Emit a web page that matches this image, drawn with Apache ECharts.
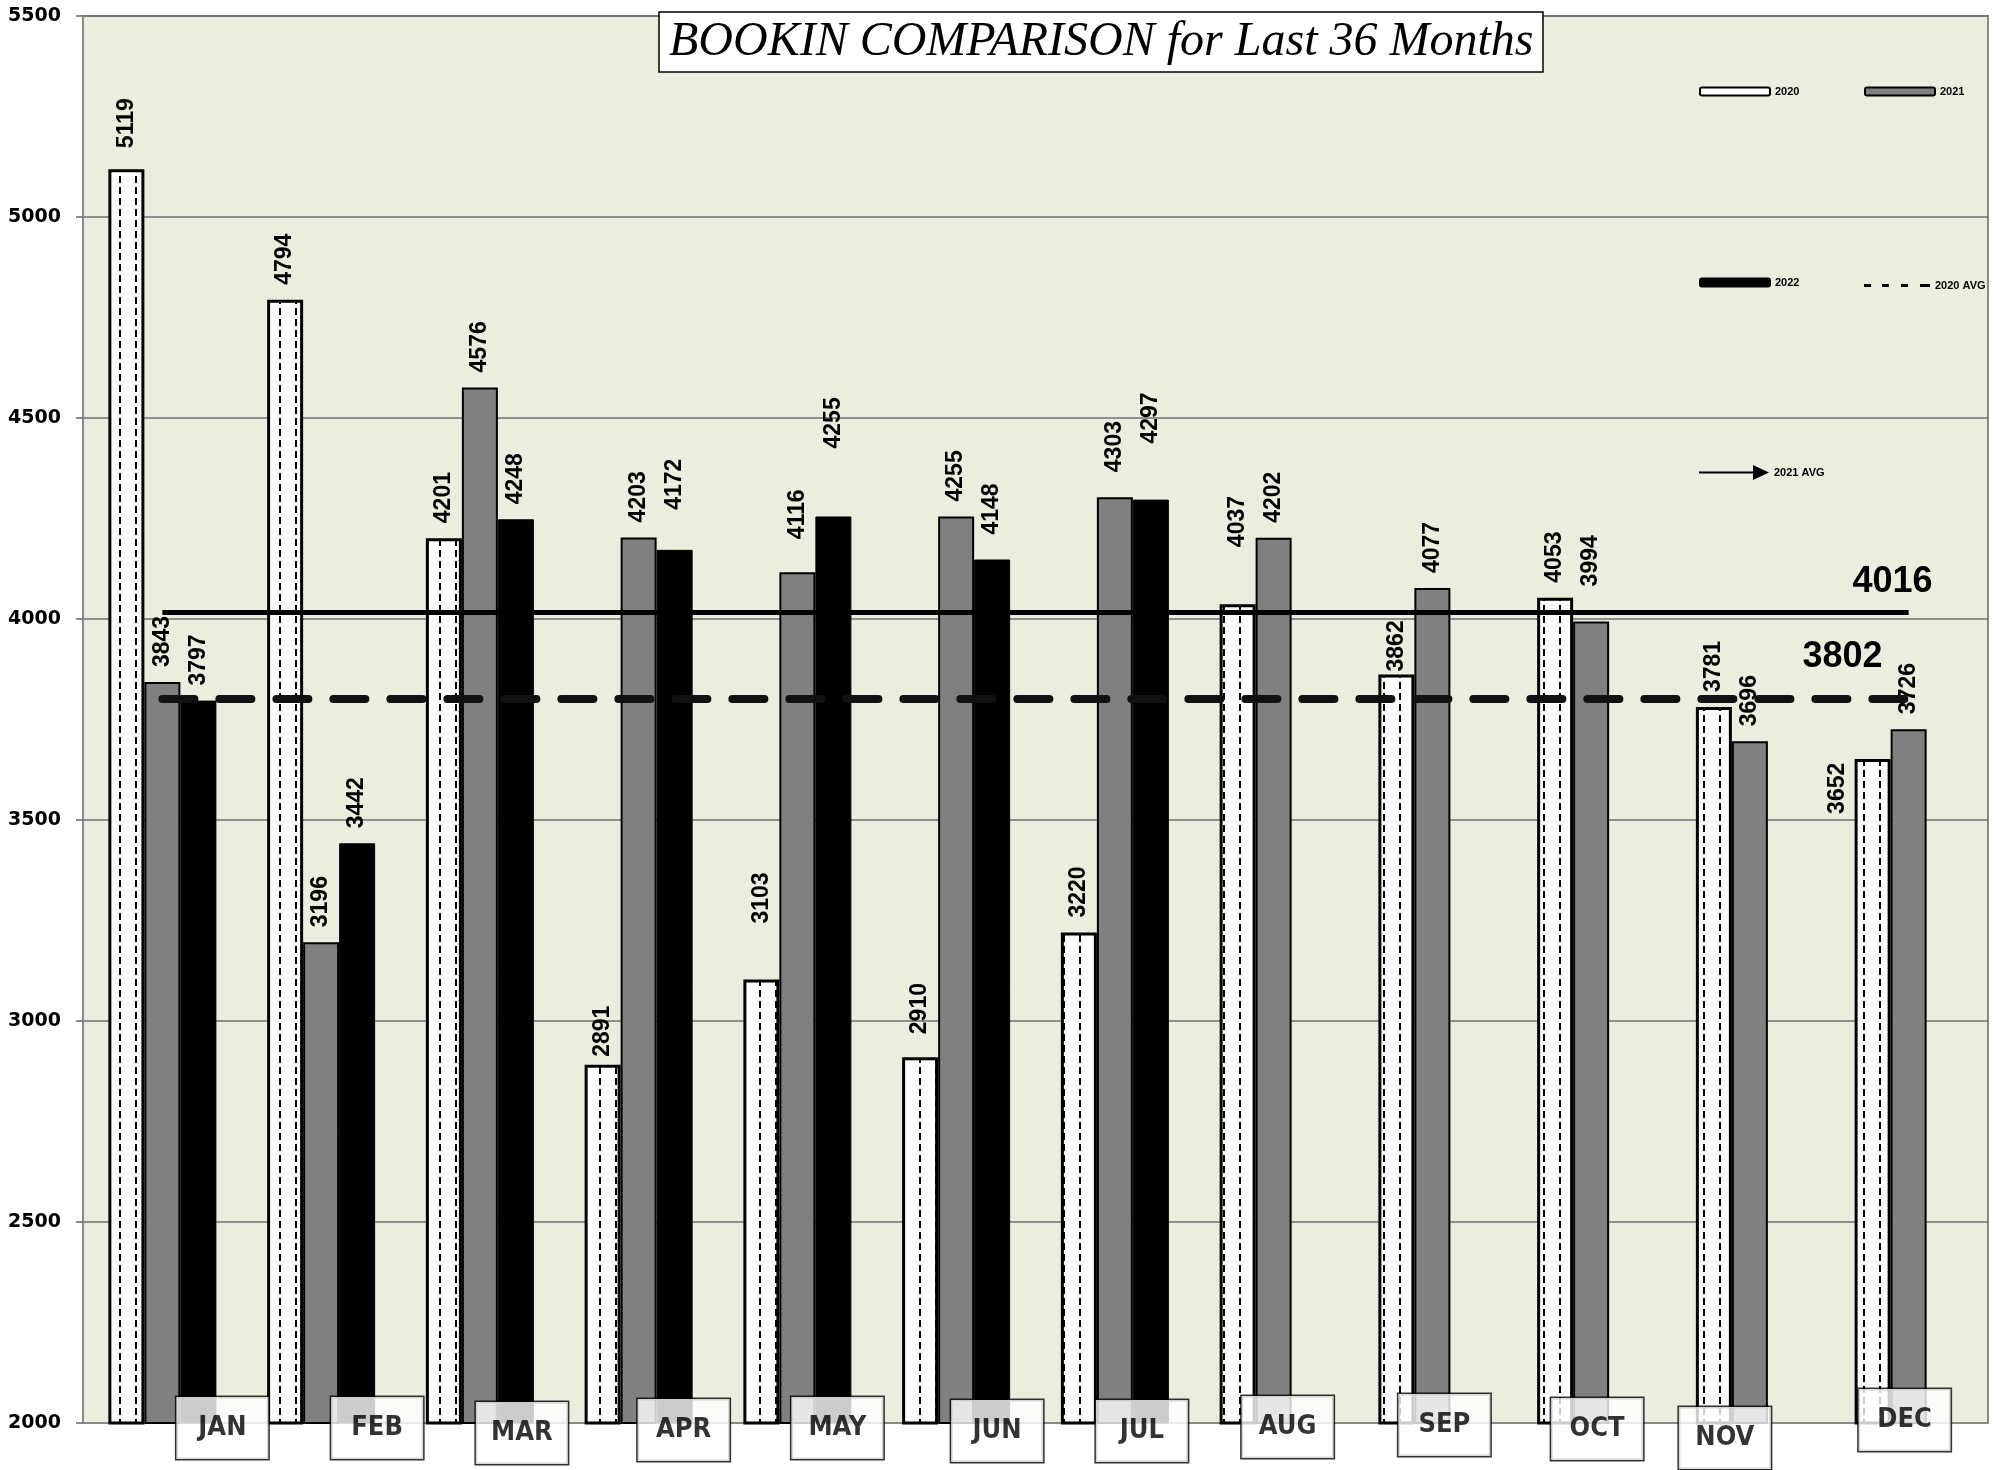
<!DOCTYPE html>
<html>
<head>
<meta charset="utf-8">
<title>Bookin comparison</title>
<script src="https://cdn.jsdelivr.net/npm/echarts@6/dist/echarts.min.js"></script>
<style>
  html, body { margin: 0; padding: 0; background: #fff; }
  #chart { width: 2007px; height: 1470px; }
</style>
</head>
<body>
<div id="chart"></div>
<script>
// data
const months = ['JAN', 'FEB', 'MAR', 'APR', 'MAY', 'JUN', 'JUL', 'AUG', 'SEP', 'OCT', 'NOV', 'DEC']
const y2020 = [5119, 4794, 4201, 2891, 3103, 2910, 3220, 4037, 3862, 4053, 3781, 3652]
const y2021 = [3843, 3196, 4576, 4203, 4116, 4255, 4303, 4202, 4077, 3994, 3696, 3726]
const y2022 = [3797, 3442, 4248, 4172, 4255, 4148, 4297, null, null, null, null, null]
const avg2020 = 3802
const avg2021 = 4016
const yTicks = [2000, 5500, 500] // min, max, step

// layout tweaks: value labels that sit off their usual spot, screen [dx, dy]
const labelNudge = {
  '2020': { 0: [0, -6], 3: [0, 7], 4: [0, -41], 5: [0, -8], 7: [0, -42], 8: [0, 12], 11: [-35, 70] },
  '2021': { 4: [0, -18], 6: [0, -10], 9: [0, -20] },
  '2022': { 3: [0, -25], 4: [0, -53], 5: [0, -10], 6: [0, -41] }
}
// month boxes are shifted a bit from the category centre [dx, dy]
const monthBoxShift = [[60, 5], [56, 5], [42, 10], [45, 7], [40, 5], [41, 8], [27, 8], [14, 4], [12, 2], [6, 6], [-25, 15], [-4, -3]]

// white bar with little vertical dashes
function dashPattern() {
  const c = document.createElement('canvas')
  c.width = 16
  c.height = 11
  const ctx = c.getContext('2d')
  ctx.fillStyle = '#fff'
  ctx.fillRect(0, 0, 16, 11)
  ctx.fillStyle = '#000'
  ctx.fillRect(7, 0, 2, 7)
  return c
}

function barData(name, values) {
  const nudge = labelNudge[name] || {}
  return values.map((v, i) => {
    const n = nudge[i]
    // labels are turned 90deg, so the offset is given in the turned frame
    if (n) return { value: v, label: { offset: [-n[1], n[0]] } }
    return v
  })
}

const valueLabel = {
  show: true,
  position: 'top',
  rotate: 90,
  align: 'left',
  verticalAlign: 'middle',
  distance: 15,
  fontSize: 23,
  fontWeight: 'bold',
  fontFamily: '"Liberation Sans", Arial, sans-serif',
  color: '#000'
}

const legendText = { fontSize: 11, fontWeight: 'bold', fontFamily: '"Liberation Sans", Arial', color: '#000' }
function legendAt(name, left, top, extra) {
  return Object.assign({
    data: [name],
    left: left,
    top: top,
    padding: 0,
    itemWidth: 70,
    itemHeight: 8,
    selectedMode: false,
    textStyle: legendText
  }, extra || {})
}

const chart = echarts.init(document.getElementById('chart'))

chart.setOption({
  backgroundColor: '#fff',
  animation: false,
  title: {
    text: 'BOOKIN COMPARISON for Last 36 Months',
    left: 659,
    top: 12,
    backgroundColor: '#fff',
    borderColor: '#000',
    borderWidth: 1.5,
    padding: [5, 10, 5, 10],
    textStyle: {
      fontFamily: '"Liberation Serif", serif',
      fontStyle: 'italic',
      fontWeight: 'normal',
      fontSize: 48,
      lineHeight: 50,
      color: '#000'
    }
  },
  legend: [
    legendAt('2020', 1699, 86, { itemStyle: { color: '#fff', borderColor: '#000', borderWidth: 2 } }),
    legendAt('2021', 1864, 86),
    legendAt('2022', 1699, 277),
    legendAt('2020 AVG', 1864, 280, {
      itemWidth: 66,
      itemHeight: 3,
      icon: 'path://M0,0 h7 v3 h-7 Z M18,0 h7 v3 h-7 Z M37,0 h7 v3 h-7 Z M56,0 h10 v3 h-10 Z'
    }),
    legendAt('2021 AVG', 1699, 465, {
      itemHeight: 15,
      icon: 'path://M0,6.5 L54,6.5 L54,0 L70,7.5 L54,15 L54,8.5 L0,8.5 Z'
    })
  ],
  grid: {
    left: 83,
    right: 19,
    top: 16,
    bottom: 47,
    show: true,
    backgroundColor: '#ebeedf',
    borderColor: '#8a8a8a',
    borderWidth: 2
  },
  xAxis: {
    type: 'category',
    data: months,
    axisLine: { lineStyle: { color: '#8a8a8a', width: 2 } },
    axisTick: { show: false },
    axisLabel: { show: false }
  },
  yAxis: {
    type: 'value',
    min: yTicks[0],
    max: yTicks[1],
    interval: yTicks[2],
    axisLine: { show: true, lineStyle: { color: '#8a8a8a', width: 2 } },
    axisTick: { show: true, length: 7, lineStyle: { color: '#666', width: 1.5 } },
    splitLine: { lineStyle: { color: '#6f6f6f', width: 1.5 } },
    axisLabel: {
      margin: 22,
      formatter: v => String(v),
      fontSize: 19,
      fontWeight: 'bold',
      fontFamily: '"DejaVu Sans", Verdana, sans-serif',
      color: '#000'
    }
  },
  series: [
    {
      name: '2020',
      type: 'bar',
      barWidth: 36,
      barGap: '0%',
      z: 2,
      itemStyle: { color: { image: dashPattern(), repeat: 'repeat' }, borderColor: '#000', borderWidth: 3 },
      label: valueLabel,
      data: barData('2020', y2020)
    },
    {
      name: '2021',
      type: 'bar',
      barWidth: 36,
      barGap: '0%',
      z: 2,
      itemStyle: { color: '#808080', borderColor: '#000', borderWidth: 2 },
      label: valueLabel,
      data: barData('2021', y2021)
    },
    {
      name: '2022',
      type: 'bar',
      barWidth: 36,
      barGap: '0%',
      z: 2,
      itemStyle: { color: '#000', borderColor: '#000', borderWidth: 1 },
      label: valueLabel,
      data: barData('2022', y2022)
    },
    {
      name: '2020 AVG',
      type: 'line',
      z: 4,
      symbol: 'none',
      data: [],
      itemStyle: { color: '#000' },
      lineStyle: { color: '#000', width: 3, type: [7, 12] },
      markLine: {
        silent: true,
        symbol: ['none', 'none'],
        lineStyle: { color: '#111', width: 8, type: [32, 25], cap: 'round' },
        label: {
          show: true,
          position: 'insideEndTop',
          distance: [26, 24],
          formatter: String(avg2020),
          fontSize: 36,
          fontWeight: 'bold',
          fontFamily: '"Liberation Sans", Arial',
          color: '#000'
        },
        data: [[{ coord: [months[0], avg2020] }, { coord: [months[11], avg2020] }]]
      }
    },
    {
      name: '2021 AVG',
      type: 'line',
      z: 4,
      symbol: 'none',
      data: [],
      itemStyle: { color: '#000' },
      lineStyle: { color: '#000', width: 2 },
      markLine: {
        silent: true,
        symbol: ['none', 'arrow'],
        symbolSize: [0, 18],
        lineStyle: { color: '#000', width: 5, type: 'solid' },
        label: {
          show: true,
          position: 'insideEndTop',
          distance: [-24, 12],
          formatter: String(avg2021),
          fontSize: 36,
          fontWeight: 'bold',
          fontFamily: '"Liberation Sans", Arial',
          color: '#000'
        },
        data: [[{ coord: [months[0], avg2021] }, { coord: [months[11], avg2021] }]]
      }
    },
    {
      // month names in white boxes at the foot of the bars
      name: 'months',
      type: 'scatter',
      z: 6,
      symbolSize: 0,
      silent: true,
      clip: false,
      label: {
        show: true,
        position: 'inside',
        formatter: p => months[p.dataIndex],
        width: 60,
        align: 'center',
        lineHeight: 32,
        padding: [15, 16],
        backgroundColor: '#fff',
        borderColor: '#000',
        borderWidth: 1.5,
        fontSize: 27,
        fontWeight: 'bold',
        fontFamily: '"DejaVu Sans Condensed", "Liberation Sans Narrow", "Open Sans", sans-serif',
        color: '#000'
      },
      data: months.map((m, i) => ({ value: yTicks[0], label: { offset: monthBoxShift[i] } }))
    }
  ]
})
</script>
</body>
</html>
